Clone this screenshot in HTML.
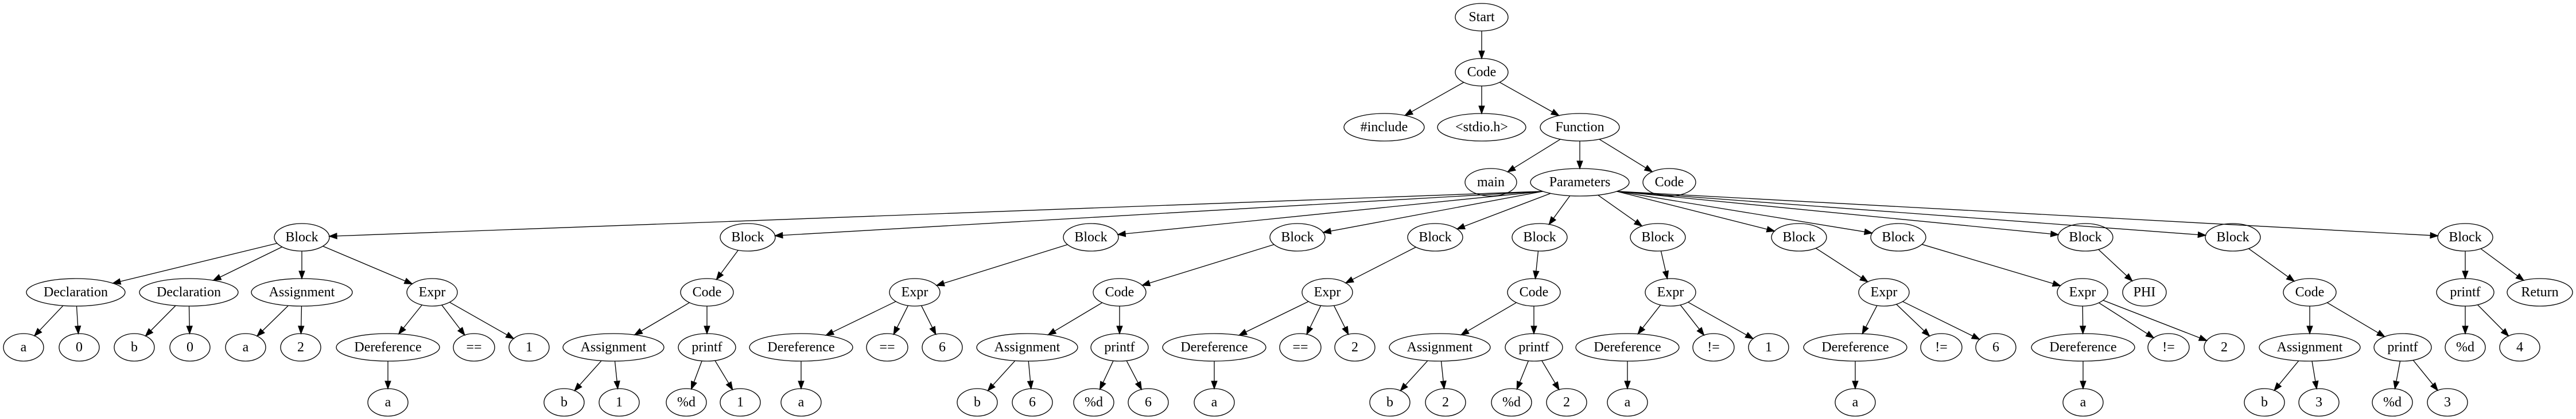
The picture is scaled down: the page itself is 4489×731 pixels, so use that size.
<!DOCTYPE html>
<html><head><meta charset="utf-8"><style>
html,body{margin:0;padding:0;background:#fff}
svg{display:block}
text{font-family:"Liberation Serif","Times New Roman",serif;font-size:24px;text-anchor:middle;fill:#000}
ellipse{fill:none;stroke:#000;stroke-width:1.33}
</style></head><body>
<svg id="s" width="4489" height="731" viewBox="0 0 4489 731" xmlns="http://www.w3.org/2000/svg">
<rect width="4489" height="731" fill="#fff"/>
<g id="edges" stroke="#000" stroke-width="1.33" fill="#000"></g>
<g id="nodes" transform="translate(0,1)">
<ellipse id="n0" cx="2582" cy="29" rx="46" ry="24"/><text x="2582" y="36">Start</text>
<ellipse id="n1" cx="2582" cy="125" rx="46" ry="24"/><text x="2582" y="132">Code</text>
<ellipse id="n2" cx="2412" cy="221" rx="70" ry="24"/><text x="2412" y="228">#include</text>
<ellipse id="n3" cx="2582" cy="221" rx="77" ry="24"/><text x="2582" y="228">&lt;stdio.h&gt;</text>
<ellipse id="n4" cx="2753" cy="221" rx="69" ry="24"/><text x="2753" y="228">Function</text>
<ellipse id="n5" cx="2598" cy="317" rx="45" ry="24"/><text x="2598" y="324">main</text>
<ellipse id="n6" cx="2753" cy="317" rx="86" ry="24"/><text x="2753" y="324">Parameters</text>
<ellipse id="n7" cx="2909" cy="317" rx="46" ry="24"/><text x="2909" y="324">Code</text>

<ellipse id="b1" cx="526" cy="413" rx="48" ry="24"/><text x="526" y="420">Block</text>
<ellipse id="b2" cx="1303" cy="413" rx="48" ry="24"/><text x="1303" y="420">Block</text>
<ellipse id="b3" cx="1901" cy="413" rx="48" ry="24"/><text x="1901" y="420">Block</text>
<ellipse id="b4" cx="2261" cy="413" rx="48" ry="24"/><text x="2261" y="420">Block</text>
<ellipse id="b5" cx="2501" cy="413" rx="48" ry="24"/><text x="2501" y="420">Block</text>
<ellipse id="b6" cx="2683" cy="413" rx="48" ry="24"/><text x="2683" y="420">Block</text>
<ellipse id="b7" cx="2889" cy="413" rx="48" ry="24"/><text x="2889" y="420">Block</text>
<ellipse id="b8" cx="3135" cy="413" rx="48" ry="24"/><text x="3135" y="420">Block</text>
<ellipse id="b9" cx="3308" cy="413" rx="48" ry="24"/><text x="3308" y="420">Block</text>
<ellipse id="b10" cx="3634" cy="413" rx="48" ry="24"/><text x="3634" y="420">Block</text>
<ellipse id="b11" cx="3891" cy="413" rx="48" ry="24"/><text x="3891" y="420">Block</text>
<ellipse id="b12" cx="4296" cy="413" rx="48" ry="24"/><text x="4296" y="420">Block</text>

<ellipse id="c1a" cx="132" cy="509" rx="86" ry="24"/><text x="132" y="516">Declaration</text>
<ellipse id="c1b" cx="329" cy="509" rx="86" ry="24"/><text x="329" y="516">Declaration</text>
<ellipse id="c1c" cx="526" cy="509" rx="88" ry="24"/><text x="526" y="516">Assignment</text>
<ellipse id="c1d" cx="753" cy="509" rx="44" ry="24"/><text x="753" y="516">Expr</text>
<ellipse id="d1a" cx="41" cy="605" rx="35" ry="24"/><text x="41" y="612">a</text>
<ellipse id="d1b" cx="138" cy="605" rx="35" ry="24"/><text x="138" y="612">0</text>
<ellipse id="d1c" cx="234" cy="605" rx="35" ry="24"/><text x="234" y="612">b</text>
<ellipse id="d1d" cx="331" cy="605" rx="35" ry="24"/><text x="331" y="612">0</text>
<ellipse id="d1e" cx="428" cy="605" rx="35" ry="24"/><text x="428" y="612">a</text>
<ellipse id="d1f" cx="524" cy="605" rx="35" ry="24"/><text x="524" y="612">2</text>
<ellipse id="d1g" cx="676" cy="605" rx="90" ry="24"/><text x="676" y="612">Dereference</text>
<ellipse id="d1h" cx="826" cy="605" rx="36" ry="24"/><text x="826" y="612">==</text>
<ellipse id="d1i" cx="922" cy="605" rx="35" ry="24"/><text x="922" y="612">1</text>
<ellipse id="e1a" cx="676" cy="701" rx="35" ry="24"/><text x="676" y="708">a</text>

<ellipse id="c2" cx="1232" cy="509" rx="46" ry="24"/><text x="1232" y="516">Code</text>
<ellipse id="d2a" cx="1069" cy="605" rx="88" ry="24"/><text x="1069" y="612">Assignment</text>
<ellipse id="d2b" cx="1232" cy="605" rx="50" ry="24"/><text x="1232" y="612">printf</text>
<ellipse id="e2a" cx="983" cy="701" rx="35" ry="24"/><text x="983" y="708">b</text>
<ellipse id="e2b" cx="1079" cy="701" rx="35" ry="24"/><text x="1079" y="708">1</text>
<ellipse id="e2c" cx="1196" cy="701" rx="35" ry="24"/><text x="1196" y="708">%d</text>
<ellipse id="e2d" cx="1290" cy="701" rx="35" ry="24"/><text x="1290" y="708">1</text>

<ellipse id="c3" cx="1594" cy="509" rx="44" ry="24"/><text x="1594" y="516">Expr</text>
<ellipse id="d3a" cx="1396" cy="605" rx="90" ry="24"/><text x="1396" y="612">Dereference</text>
<ellipse id="d3b" cx="1546" cy="605" rx="36" ry="24"/><text x="1546" y="612">==</text>
<ellipse id="d3c" cx="1642" cy="605" rx="35" ry="24"/><text x="1642" y="612">6</text>
<ellipse id="e3a" cx="1396" cy="701" rx="35" ry="24"/><text x="1396" y="708">a</text>

<ellipse id="c4" cx="1951" cy="509" rx="46" ry="24"/><text x="1951" y="516">Code</text>
<ellipse id="d4a" cx="1790" cy="605" rx="88" ry="24"/><text x="1790" y="612">Assignment</text>
<ellipse id="d4b" cx="1951" cy="605" rx="50" ry="24"/><text x="1951" y="612">printf</text>
<ellipse id="e4a" cx="1703" cy="701" rx="35" ry="24"/><text x="1703" y="708">b</text>
<ellipse id="e4b" cx="1799" cy="701" rx="35" ry="24"/><text x="1799" y="708">6</text>
<ellipse id="e4c" cx="1906" cy="701" rx="35" ry="24"/><text x="1906" y="708">%d</text>
<ellipse id="e4d" cx="2001" cy="701" rx="35" ry="24"/><text x="2001" y="708">6</text>

<ellipse id="c5" cx="2313" cy="509" rx="44" ry="24"/><text x="2313" y="516">Expr</text>
<ellipse id="d5a" cx="2116" cy="605" rx="90" ry="24"/><text x="2116" y="612">Dereference</text>
<ellipse id="d5b" cx="2266" cy="605" rx="36" ry="24"/><text x="2266" y="612">==</text>
<ellipse id="d5c" cx="2361" cy="605" rx="35" ry="24"/><text x="2361" y="612">2</text>
<ellipse id="e5a" cx="2116" cy="701" rx="35" ry="24"/><text x="2116" y="708">a</text>

<ellipse id="c6" cx="2673" cy="509" rx="46" ry="24"/><text x="2673" y="516">Code</text>
<ellipse id="d6a" cx="2509" cy="605" rx="88" ry="24"/><text x="2509" y="612">Assignment</text>
<ellipse id="d6b" cx="2673" cy="605" rx="50" ry="24"/><text x="2673" y="612">printf</text>
<ellipse id="e6a" cx="2422" cy="701" rx="35" ry="24"/><text x="2422" y="708">b</text>
<ellipse id="e6b" cx="2519" cy="701" rx="35" ry="24"/><text x="2519" y="708">2</text>
<ellipse id="e6c" cx="2634" cy="701" rx="35" ry="24"/><text x="2634" y="708">%d</text>
<ellipse id="e6d" cx="2730" cy="701" rx="35" ry="24"/><text x="2730" y="708">2</text>

<ellipse id="c7" cx="2911" cy="509" rx="44" ry="24"/><text x="2911" y="516">Expr</text>
<ellipse id="d7a" cx="2836" cy="605" rx="90" ry="24"/><text x="2836" y="612">Dereference</text>
<ellipse id="d7b" cx="2986" cy="605" rx="36" ry="24"/><text x="2986" y="612">!=</text>
<ellipse id="d7c" cx="3082" cy="605" rx="35" ry="24"/><text x="3082" y="612">1</text>
<ellipse id="e7a" cx="2836" cy="701" rx="35" ry="24"/><text x="2836" y="708">a</text>

<ellipse id="c8" cx="3283" cy="509" rx="44" ry="24"/><text x="3283" y="516">Expr</text>
<ellipse id="d8a" cx="3233" cy="605" rx="90" ry="24"/><text x="3233" y="612">Dereference</text>
<ellipse id="d8b" cx="3383" cy="605" rx="36" ry="24"/><text x="3383" y="612">!=</text>
<ellipse id="d8c" cx="3478" cy="605" rx="35" ry="24"/><text x="3478" y="612">6</text>
<ellipse id="e8a" cx="3233" cy="701" rx="35" ry="24"/><text x="3233" y="708">a</text>

<ellipse id="c9" cx="3629" cy="509" rx="44" ry="24"/><text x="3629" y="516">Expr</text>
<ellipse id="d9a" cx="3630" cy="605" rx="90" ry="24"/><text x="3630" y="612">Dereference</text>
<ellipse id="d9b" cx="3779" cy="605" rx="36" ry="24"/><text x="3779" y="612">!=</text>
<ellipse id="d9c" cx="3876" cy="605" rx="35" ry="24"/><text x="3876" y="612">2</text>
<ellipse id="e9a" cx="3630" cy="701" rx="35" ry="24"/><text x="3630" y="708">a</text>

<ellipse id="c10" cx="3737" cy="509" rx="38" ry="24"/><text x="3737" y="516">PHI</text>

<ellipse id="c11" cx="4025" cy="509" rx="46" ry="24"/><text x="4025" y="516">Code</text>
<ellipse id="d11a" cx="4025" cy="605" rx="88" ry="24"/><text x="4025" y="612">Assignment</text>
<ellipse id="d11b" cx="4187" cy="605" rx="50" ry="24"/><text x="4187" y="612">printf</text>
<ellipse id="e11a" cx="3946" cy="701" rx="35" ry="24"/><text x="3946" y="708">b</text>
<ellipse id="e11b" cx="4041" cy="701" rx="35" ry="24"/><text x="4041" y="708">3</text>
<ellipse id="e11c" cx="4169" cy="701" rx="35" ry="24"/><text x="4169" y="708">%d</text>
<ellipse id="e11d" cx="4265" cy="701" rx="35" ry="24"/><text x="4265" y="708">3</text>

<ellipse id="c12a" cx="4296" cy="509" rx="50" ry="24"/><text x="4296" y="516">printf</text>
<ellipse id="c12b" cx="4426" cy="509" rx="57" ry="24"/><text x="4426" y="516">Return</text>
<ellipse id="d12a" cx="4296" cy="605" rx="35" ry="24"/><text x="4296" y="612">%d</text>
<ellipse id="d12b" cx="4391" cy="605" rx="35" ry="24"/><text x="4391" y="612">4</text>
</g>
</svg>
<script>
(function(){
var E=[["n0","n1"],["n1","n2"],["n1","n3"],["n1","n4"],["n4","n5"],["n4","n6"],["n4","n7"],
["n6","b1"],["n6","b2"],["n6","b3"],["n6","b4"],["n6","b5"],["n6","b6"],["n6","b7"],["n6","b8"],["n6","b9"],["n6","b10"],["n6","b11"],["n6","b12"],
["b1","c1a"],["b1","c1b"],["b1","c1c"],["b1","c1d"],["c1a","d1a"],["c1a","d1b"],["c1b","d1c"],["c1b","d1d"],["c1c","d1e"],["c1c","d1f"],["c1d","d1g"],["c1d","d1h"],["c1d","d1i"],["d1g","e1a"],
["b2","c2"],["c2","d2a"],["c2","d2b"],["d2a","e2a"],["d2a","e2b"],["d2b","e2c"],["d2b","e2d"],
["b3","c3"],["c3","d3a"],["c3","d3b"],["c3","d3c"],["d3a","e3a"],
["b4","c4"],["c4","d4a"],["c4","d4b"],["d4a","e4a"],["d4a","e4b"],["d4b","e4c"],["d4b","e4d"],
["b5","c5"],["c5","d5a"],["c5","d5b"],["c5","d5c"],["d5a","e5a"],
["b6","c6"],["c6","d6a"],["c6","d6b"],["d6a","e6a"],["d6a","e6b"],["d6b","e6c"],["d6b","e6d"],
["b7","c7"],["c7","d7a"],["c7","d7b"],["c7","d7c"],["d7a","e7a"],
["b8","c8"],["c8","d8a"],["c8","d8b"],["c8","d8c"],["d8a","e8a"],
["b9","c9"],["c9","d9a"],["c9","d9b"],["c9","d9c"],["d9a","e9a"],
["b10","c10"],
["b11","c11"],["c11","d11a"],["c11","d11b"],["d11a","e11a"],["d11a","e11b"],["d11b","e11c"],["d11b","e11d"],
["b12","c12a"],["b12","c12b"],["c12a","d12a"],["c12a","d12b"]];
var g=document.getElementById("edges"),NS="http://www.w3.org/2000/svg";
g.setAttribute("transform","translate(0,1)");
function get(id){var e=document.getElementById(id);return{x:+e.getAttribute("cx"),y:+e.getAttribute("cy"),rx:+e.getAttribute("rx"),ry:+e.getAttribute("ry")};}
function clip(n,dx,dy){var t=1/Math.sqrt(Math.pow(dx/n.rx,2)+Math.pow(dy/n.ry,2));return[n.x+dx*t,n.y+dy*t];}
E.forEach(function(p){
var a=get(p[0]),b=get(p[1]);
var s,e,dx=b.x-a.x,dy=b.y-a.y;
if(p[0]==="n6"&&Math.abs(dx)>300){
  s=[a.x+(dx<0?-1:1)*0.75*a.rx,a.y+0.66*a.ry];
  var ddx=b.x-s[0],ddy=b.y-s[1];
  e=clip(b,-ddx,-ddy);
}else{
  s=clip(a,dx,dy);e=clip(b,-dx,-dy);
}
var vx=e[0]-s[0],vy=e[1]-s[1],L=Math.sqrt(vx*vx+vy*vy);var ux=vx/L,uy=vy/L;
var AL=13,AW=4.8;
var bx=e[0]-ux*AL,by=e[1]-uy*AL;
var l=document.createElementNS(NS,"line");
l.setAttribute("x1",s[0]);l.setAttribute("y1",s[1]);l.setAttribute("x2",bx);l.setAttribute("y2",by);
g.appendChild(l);
var pg=document.createElementNS(NS,"polygon");
pg.setAttribute("points",e[0]+","+e[1]+" "+(bx-uy*AW)+","+(by+ux*AW)+" "+(bx+uy*AW)+","+(by-ux*AW));
g.appendChild(pg);
});
})();
</script>
</body></html>
